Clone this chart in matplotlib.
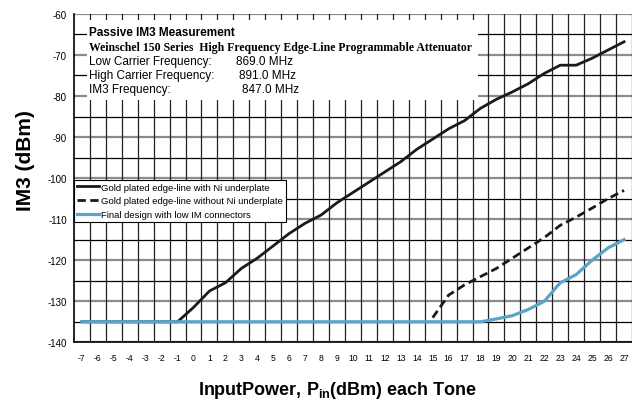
import matplotlib
matplotlib.use("Agg")
import matplotlib.pyplot as plt
from matplotlib.patches import Rectangle

plt.rcParams['font.family'] = ['Liberation Sans', 'DejaVu Sans']
plt.rcParams['axes.unicode_minus'] = False
plt.rcParams['mathtext.fontset'] = 'custom'
plt.rcParams['mathtext.rm'] = 'Liberation Sans'
plt.rcParams['mathtext.bf'] = 'Liberation Sans:bold'

# input power (dBm) for each curve
x_ni = list(range(-7, 28))
y_ni = [-135, -135, -135, -135, -135, -135, -135,
        -131.5, -127.5, -125.5, -122, -119.5, -116.5, -113.5, -111, -109,
        -106, -103.5, -101, -98.5, -96, -93, -90.5, -88, -86, -83,
        -80.8, -79, -77, -74.5, -72.5, -72.5, -70.8, -68.8, -66.8]

x_no_ni = list(range(15, 28))
y_no_ni = [-134, -128.5, -126, -124, -122, -119.5, -117, -114.5, -111.5,
           -109.5, -107.3, -105, -103]

x_final = [-7, 18, 19, 20, 21, 22, 23, 24, 25, 26, 27]
y_final = [-135, -135, -134.3, -133.5, -132, -130, -125.5, -123.5, -120, -117, -115]

labels = ["Gold plated edge-line with Ni underplate",
          "Gold plated edge-line without Ni underplate",
          "Final design with low IM connectors"]

header = [("Low Carrier Frequency:", "869.0 MHz"),
          ("High Carrier Frequency:", "891.0 MHz"),
          ("IM3 Frequency:", "847.0 MHz")]

fig = plt.figure(figsize=(6.32, 4.02), dpi=100)
ax = fig.add_axes([0.117, 0.146, 0.883, 0.817])

# grid
for v in range(-140, -59, 5):
    if v % 10 == 0:
        ax.axhline(v, color='#8c8c8c', lw=1.6, zorder=1)
    else:
        ax.axhline(v, color='black', lw=0.9, zorder=1)
for k in range(-7, 28):
    ax.axvline(k + 0.5, color='#222222', lw=0.9, zorder=1)

# header box
ax.add_patch(Rectangle((-6.67, -81), 24.5, 19.5, facecolor='white',
                       edgecolor='none', zorder=2))
ax.text(-6.55, -64.4, "Passive IM3 Measurement", fontsize=8.5, fontweight='bold',
        va='center', zorder=3)
ax.text(-6.55, -68.0, "Weinschel 150 Series  High Frequency Edge-Line Programmable Attenuator",
        fontsize=8.5, fontweight='bold', family='Liberation Serif', va='center', zorder=3)
for i, (a, b) in enumerate(header):
    yy = -71.5 - i * 3.4
    ax.text(-6.55, yy, a, fontsize=8.5, va='center', zorder=3)
    ax.text(2.67 + i * 0.18, yy, b, fontsize=8.5, va='center', zorder=3)

ax.plot(x_ni, y_ni, color='#1a1a1a', lw=2.0, zorder=4, label=labels[0])
ax.plot(x_no_ni, y_no_ni, color='#1a1a1a', lw=2.0, ls=(0, (3, 1.6)), zorder=4,
        label=labels[1])
ax.plot(x_final, y_final, color='#5aa4c8', lw=2.3, zorder=5, label=labels[2])

leg = ax.legend(loc='upper left', bbox_to_anchor=(0.0, 0.495), fontsize=6.8,
                frameon=True, fancybox=False, edgecolor='black', framealpha=1,
                handlelength=2.4, handletextpad=0.15, borderpad=0.3,
                labelspacing=0.5, borderaxespad=0)
leg.get_frame().set_linewidth(0.8)
leg.set_zorder(6)

ax.set_xlim(-7.5, 27.5)
ax.set_ylim(-140, -60)
ax.set_xticks(range(-7, 28))
ax.set_yticks(range(-140, -59, 10))
ax.tick_params(length=0)
ax.tick_params(axis='x', pad=8, labelsize=6.2)
ax.tick_params(axis='y', pad=5, labelsize=7)
for s in ['top', 'right']:
    ax.spines[s].set_visible(False)
ax.spines['left'].set_linewidth(1.2)
ax.spines['bottom'].set_linewidth(1.2)

fig.text(0.04, 0.6, "IM3 (dBm)", rotation=90, fontsize=15, fontweight='bold',
         ha='center', va='center')
fig.text(0.535, 0.028, r"InputPower, P$_{\mathbf{in}}$(dBm) each Tone", fontsize=13,
         fontweight='bold', ha='center', va='center')

fig.savefig("out.png", dpi=100)
